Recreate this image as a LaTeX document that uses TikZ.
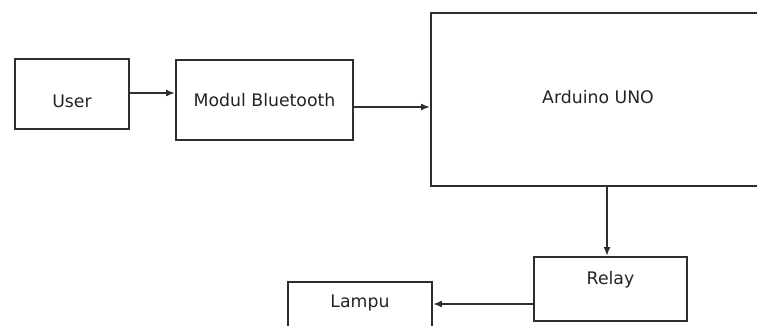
\documentclass[tikz,border=0pt]{standalone}
\usepackage{fontspec}
\setmainfont{DejaVu Sans}
\usetikzlibrary{arrows.meta}
\definecolor{linec}{HTML}{2E2E2E}
\definecolor{textc}{HTML}{222228}
\begin{document}
\begin{tikzpicture}[x=1pt,y=-1pt,
  blk/.style={draw=linec, line width=1.9pt, rectangle, inner sep=0pt,
    text=textc, font=\fontsize{17.3}{20}\selectfont},
  conn/.style={draw=linec, line width=1.9pt, -{Latex[length=9pt,width=7pt]}}]
\useasboundingbox (0,0) rectangle (757,326);
\clip (0,0) rectangle (757,326);
% User: top 59 bottom 129
\node[blk, minimum width=114pt, text height=48.5pt, text depth=21.5pt] (user) at (72,94) {User};
% Modul Bluetooth: top 60 bottom 140
\node[blk, minimum width=177pt, text height=46.5pt, text depth=33.5pt] (mb) at (264.5,100) {Modul Bluetooth};
% Arduino UNO: 431..765, top 13 bottom 186
\node[blk, minimum width=334pt, text height=90.5pt, text depth=82.5pt] (ard) at (598,99.5) {Arduino UNO};
% Relay: 534..687, top 257 bottom 321
\node[blk, minimum width=153pt, text height=27.5pt, text depth=36.5pt] (relay) at (610.5,289) {Relay};
% Lampu: 288..432, top 282, runs past the bottom edge
\node[blk, minimum width=144pt, text height=25.5pt, text depth=42.5pt] (lampu) at (360,316) {Lampu};
\draw[conn] ([yshift=1pt]user.east) -- ([yshift=1pt]user.east -| mb.west);
\draw[conn] ([yshift=-7pt]mb.east) -- ([yshift=-7pt]mb.east -| ard.west);
\draw[conn] ([xshift=-3.5pt]relay.north |- ard.south) -- ([xshift=-3.5pt]relay.north);
\draw[conn] ([yshift=-15pt]relay.west) -- ([yshift=-15pt]relay.west -| lampu.east);
\end{tikzpicture}
\end{document}
